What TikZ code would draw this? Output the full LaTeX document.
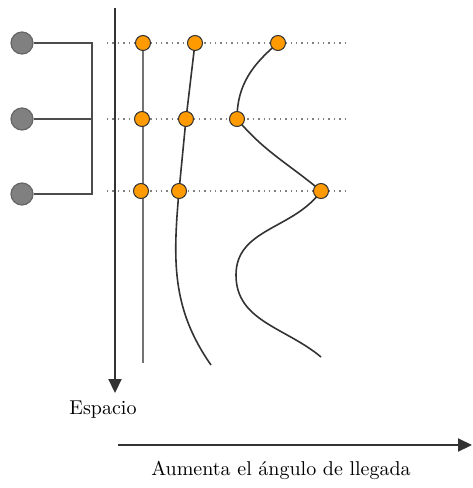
\documentclass[tikz,border=0pt]{standalone}
\usetikzlibrary{arrows.meta}
\definecolor{naranja}{HTML}{FF9A00}
\tikzset{
	emisor/.style={circle, draw=black!60, fill=gray, minimum size=11pt, inner sep=0pt, line width=0.6pt},
	punto/.style={circle, draw=black!80, fill=naranja, minimum size=7.5pt, inner sep=0pt, line width=0.5pt},
	fila/.style={draw=black!50, dotted, line width=0.7pt},
	onda/.style={draw=black!80, line width=0.8pt},
	rama/.style={draw=black!70, line width=0.8pt},
	eje/.style={draw=black!80, line width=1.1pt, -{Triangle[length=7pt,width=6.5pt]}},
}

\begin{document}
\begin{tikzpicture}[x=0.5pt, y=-0.5pt, font=\fontsize{10}{12}\selectfont]
		%%%%% START %%%%%
		\useasboundingbox (0, 0) rectangle (472, 488);
		
		% guide lines
		\foreach \y in {43, 119, 191}
			\draw[fila] (107, \y) -- (345, \y);
		
		% emitters and bracket
		\node[emisor] (e1) at (22, 43) {};
		\node[emisor] (e2) at (22, 119) {};
		\node[emisor] (e3) at (22, 194) {};
		\coordinate (b1) at (92, 43);
		\coordinate (b2) at (92, 119);
		\coordinate (b3) at (92, 194);
		\draw[rama] (e1) -- (b1) -- (b3) -- (e3);
		\draw[rama] (e2) -- (b2);
		
		% space axis
		\coordinate (top) at (115, 8);
		\coordinate (bot) at (115, 393);
		\draw[eje] (top) -- (bot);
		\node (espacio) at (103, 410) {Espacio};
		
		% angle axis
		\coordinate (izq) at (118, 445);
		\coordinate (der) at (472, 445);
		\draw[eje] (izq) -- (der);
		\node (angulo) at (281, 470) {Aumenta el ángulo de llegada};
		
		% first front
		\coordinate (f1) at (143, 363);
		\draw[onda, draw=black!55, line width=0.9pt] (143, 43) -- (f1);
		
		% second front
		\coordinate (f2) at (211, 365);
		\draw[onda] (195, 43) -- (186, 119) -- (179, 191)
			to[out=-95, in=125] (f2);
		
		% third front
		\coordinate (g1) at (236, 275);
		\coordinate (f3) at (321, 357);
		\draw[onda] (278, 43) to[out=-140, in=90] (237, 119)
			to[out=-50, in=140] (321, 191)
			to[out=-125, in=90] (g1)
			to[out=-90, in=140] (f3);
		
		% dots
		\node[punto] (a1) at (143, 43) {};
		\node[punto] (a2) at (142, 119) {};
		\node[punto] (a3) at (141, 191) {};
		\node[punto] (b1) at (195, 43) {};
		\node[punto] (b2) at (186, 119) {};
		\node[punto] (b3) at (179, 191) {};
		\node[punto] (c1) at (278, 43) {};
		\node[punto] (c2) at (237, 119) {};
		\node[punto] (c3) at (321, 191) {};
		
		%%%%% END %%%%%
	\end{tikzpicture}
\end{document}
